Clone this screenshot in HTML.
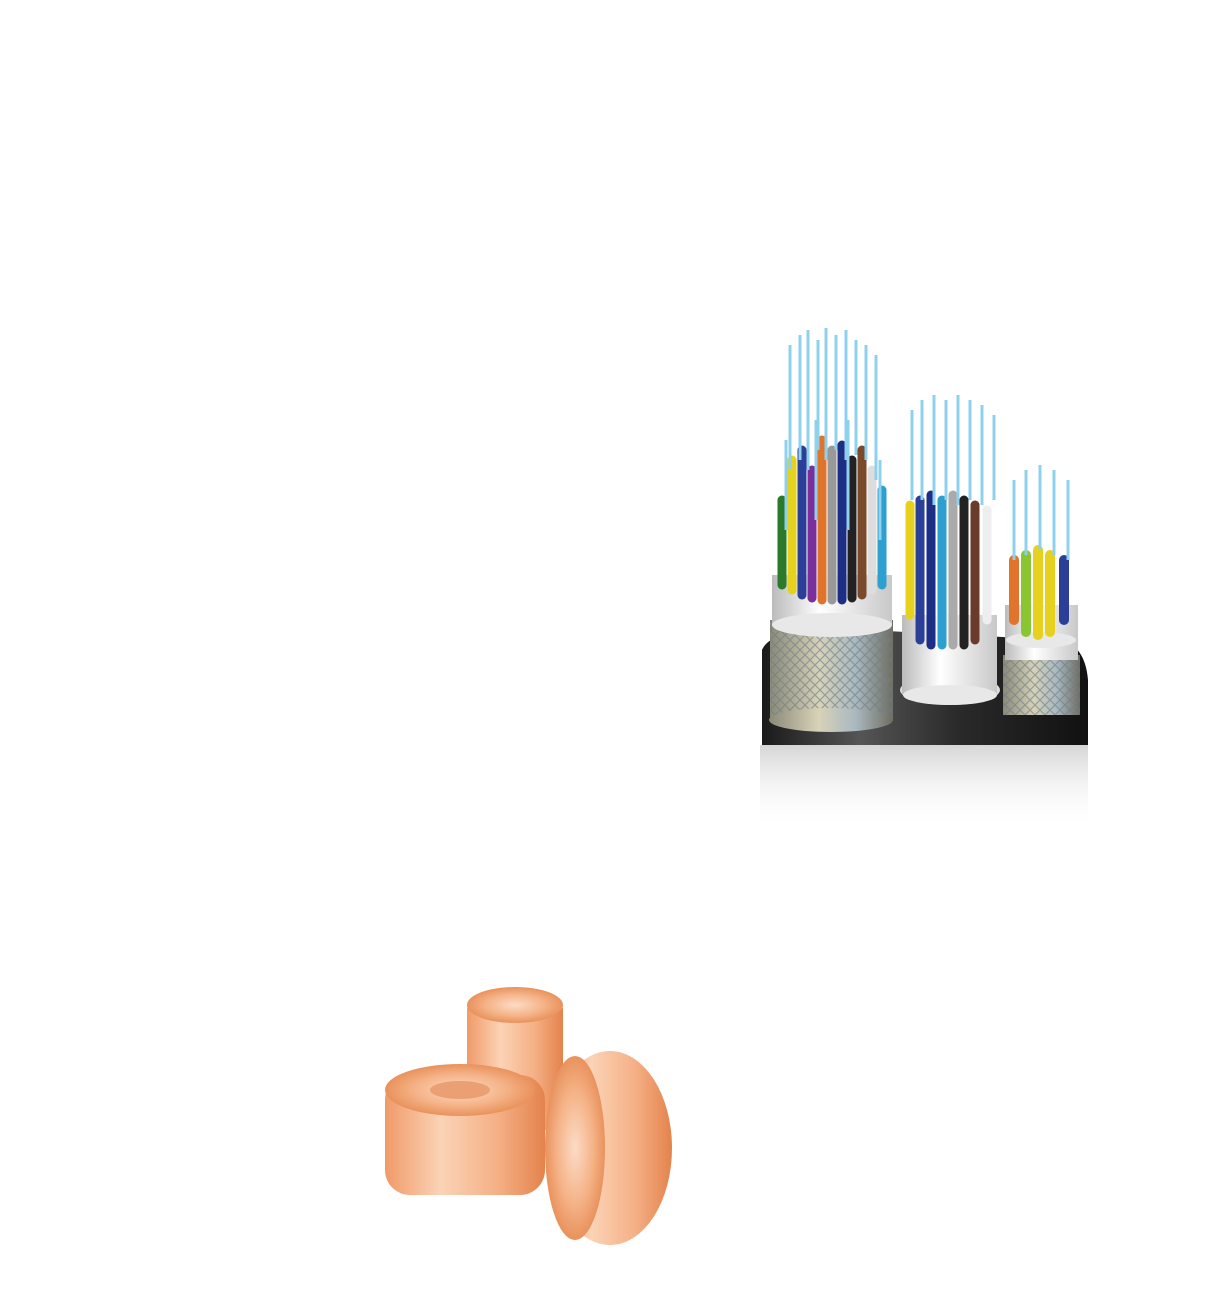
<!DOCTYPE html>
<html><head><meta charset="utf-8"><title>Cables</title>
<style>html,body{margin:0;padding:0;background:#fff;width:1207px;height:1292px;overflow:hidden}</style></head>
<body>
<svg width="1207" height="1292" viewBox="0 0 1207 1292" xmlns="http://www.w3.org/2000/svg">
<defs>
<linearGradient id="jacket" x1="0" x2="1"><stop offset="0" stop-color="#1a1a1a"/><stop offset=".3" stop-color="#555"/><stop offset=".6" stop-color="#2a2a2a"/><stop offset="1" stop-color="#111"/></linearGradient>
<linearGradient id="braid" x1="0" x2="1"><stop offset="0" stop-color="#8a8a78"/><stop offset=".4" stop-color="#d8d2b8"/><stop offset=".7" stop-color="#a9b8c0"/><stop offset="1" stop-color="#6e6e60"/></linearGradient>
<linearGradient id="sheath" x1="0" x2="1"><stop offset="0" stop-color="#bbb"/><stop offset=".4" stop-color="#fff"/><stop offset="1" stop-color="#c8c8c8"/></linearGradient>
<linearGradient id="refl" x1="0" y1="0" x2="0" y2="1"><stop offset="0" stop-color="#888" stop-opacity=".35"/><stop offset="1" stop-color="#fff" stop-opacity="0"/></linearGradient>
<linearGradient id="copper" x1="0" x2="1"><stop offset="0" stop-color="#f09a68"/><stop offset=".35" stop-color="#fbd3b6"/><stop offset=".7" stop-color="#f5b086"/><stop offset="1" stop-color="#e4834c"/></linearGradient>
<radialGradient id="copperFace"><stop offset="0" stop-color="#fbdcc6"/><stop offset=".6" stop-color="#f5b388"/><stop offset="1" stop-color="#e9925c"/></radialGradient>
<pattern id="braidPat" width="10" height="10" patternUnits="userSpaceOnUse"><path d="M0 0L10 10M10 0L0 10" stroke="#6d7c86" stroke-width="1.2" opacity=".6"/></pattern>
</defs>
<rect width="1207" height="1292" fill="#fff"/>

<g>
  <rect x="760" y="745" width="328" height="85" fill="url(#refl)"/>
  <path d="M762 650 Q770 630 830 628 L1060 640 Q1085 645 1088 680 L1088 745 L762 745 Z" fill="url(#jacket)"/>
  <g>
    <rect x="770" y="620" width="123" height="100" fill="url(#braid)"/>
    <rect x="770" y="620" width="123" height="100" fill="url(#braidPat)"/>
    <ellipse cx="831" cy="720" rx="62" ry="12" fill="url(#braid)"/>
    <rect x="772" y="575" width="120" height="50" fill="url(#sheath)"/>
    <ellipse cx="832" cy="625" rx="60" ry="12" fill="#e8e8e8"/>
    <g stroke-width="9" stroke-linecap="round">
      <line x1="782" y1="500" x2="782" y2="585" stroke="#2a7a2a"/>
      <line x1="792" y1="460" x2="792" y2="590" stroke="#e6d21e"/>
      <line x1="802" y1="450" x2="802" y2="595" stroke="#2b3f98"/>
      <line x1="812" y1="470" x2="812" y2="598" stroke="#7a2f9a"/>
      <line x1="822" y1="440" x2="822" y2="600" stroke="#e0742a"/>
      <line x1="832" y1="450" x2="832" y2="600" stroke="#999"/>
      <line x1="842" y1="445" x2="842" y2="600" stroke="#1d2e86"/>
      <line x1="852" y1="460" x2="852" y2="598" stroke="#222"/>
      <line x1="862" y1="450" x2="862" y2="595" stroke="#7a4a2a"/>
      <line x1="872" y1="470" x2="872" y2="590" stroke="#ddd"/>
      <line x1="882" y1="490" x2="882" y2="585" stroke="#2ea0d0"/>
    </g>
    <g stroke="#8fd0ec" stroke-width="3">
      <line x1="790" y1="345" x2="790" y2="470"/><line x1="800" y1="335" x2="800" y2="460"/>
      <line x1="808" y1="330" x2="808" y2="470"/><line x1="818" y1="340" x2="818" y2="450"/>
      <line x1="826" y1="328" x2="826" y2="460"/><line x1="836" y1="335" x2="836" y2="450"/>
      <line x1="846" y1="330" x2="846" y2="460"/><line x1="856" y1="340" x2="856" y2="455"/>
      <line x1="866" y1="345" x2="866" y2="460"/><line x1="876" y1="355" x2="876" y2="480"/>
      <line x1="786" y1="440" x2="786" y2="530"/><line x1="816" y1="420" x2="816" y2="520"/>
      <line x1="848" y1="420" x2="848" y2="530"/><line x1="880" y1="460" x2="880" y2="540"/>
    </g>
  </g>
  <g>
    <ellipse cx="950" cy="690" rx="50" ry="15" fill="#ddd"/>
    <rect x="902" y="615" width="95" height="80" fill="url(#sheath)"/>
    <ellipse cx="950" cy="695" rx="47" ry="10" fill="#e8e8e8"/>
    <g stroke-width="9" stroke-linecap="round">
      <line x1="910" y1="505" x2="910" y2="615" stroke="#e6d21e"/>
      <line x1="920" y1="500" x2="920" y2="640" stroke="#2b3f98"/>
      <line x1="931" y1="495" x2="931" y2="645" stroke="#1d2e86"/>
      <line x1="942" y1="500" x2="942" y2="645" stroke="#2ea0d0"/>
      <line x1="953" y1="495" x2="953" y2="645" stroke="#aaa"/>
      <line x1="964" y1="500" x2="964" y2="645" stroke="#222"/>
      <line x1="975" y1="505" x2="975" y2="640" stroke="#6a3a2a"/>
      <line x1="987" y1="510" x2="987" y2="620" stroke="#eee"/>
    </g>
    <g stroke="#8fd0ec" stroke-width="3">
      <line x1="912" y1="410" x2="912" y2="500"/><line x1="922" y1="400" x2="922" y2="500"/>
      <line x1="934" y1="395" x2="934" y2="505"/><line x1="946" y1="400" x2="946" y2="500"/>
      <line x1="958" y1="395" x2="958" y2="505"/><line x1="970" y1="400" x2="970" y2="500"/>
      <line x1="982" y1="405" x2="982" y2="505"/><line x1="994" y1="415" x2="994" y2="500"/>
    </g>
  </g>
  <g>
    <rect x="1003" y="655" width="77" height="60" fill="url(#braid)"/>
    <rect x="1003" y="655" width="77" height="60" fill="url(#braidPat)"/>
    <rect x="1005" y="605" width="73" height="55" fill="url(#sheath)"/>
    <ellipse cx="1041" cy="640" rx="35" ry="8" fill="#e8e8e8"/>
    <g stroke-width="10" stroke-linecap="round">
      <line x1="1014" y1="560" x2="1014" y2="620" stroke="#e0742a"/>
      <line x1="1026" y1="555" x2="1026" y2="632" stroke="#8ac534"/>
      <line x1="1038" y1="550" x2="1038" y2="635" stroke="#e6d21e"/>
      <line x1="1050" y1="555" x2="1050" y2="632" stroke="#e6d21e"/>
      <line x1="1064" y1="560" x2="1064" y2="620" stroke="#2b3f98"/>
    </g>
    <g stroke="#8fd0ec" stroke-width="3">
      <line x1="1014" y1="480" x2="1014" y2="560"/><line x1="1026" y1="470" x2="1026" y2="555"/>
      <line x1="1040" y1="465" x2="1040" y2="550"/><line x1="1054" y1="470" x2="1054" y2="555"/>
      <line x1="1068" y1="480" x2="1068" y2="560"/>
    </g>
  </g>
</g>

<g>
  <g>
    <rect x="467" y="1000" width="96" height="130" rx="10" fill="url(#copper)"/>
    <ellipse cx="515" cy="1005" rx="48" ry="18" fill="url(#copperFace)"/>
  </g>
  <g>
    <rect x="385" y="1075" width="160" height="120" rx="25" fill="url(#copper)"/>
    <ellipse cx="460" cy="1090" rx="75" ry="26" fill="url(#copperFace)"/>
    <ellipse cx="460" cy="1090" rx="30" ry="9" fill="#eba073"/>
  </g>
  <g>
    <ellipse cx="610" cy="1148" rx="62" ry="97" fill="url(#copper)"/>
    <ellipse cx="575" cy="1148" rx="30" ry="92" fill="url(#copperFace)"/>
  </g>
</g>
</svg>
</body></html>
